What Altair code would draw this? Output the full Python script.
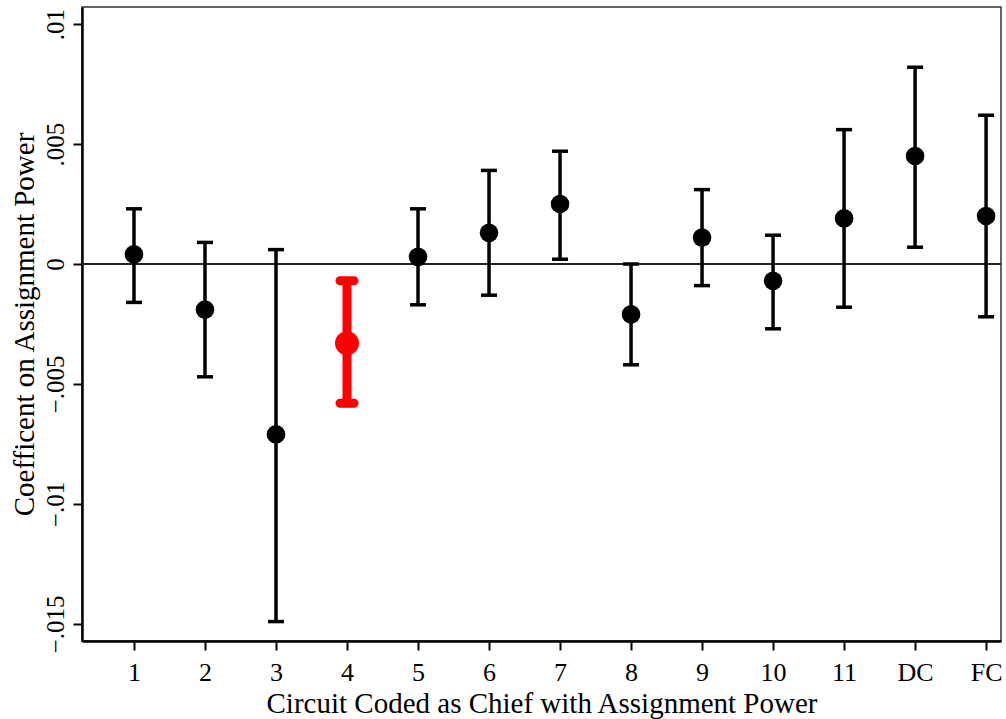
import altair as alt
import pandas as pd

circuits = ["1", "2", "3", "4", "5", "6", "7", "8", "9", "10", "11", "DC", "FC"]
coef = [0.0004, -0.0019, -0.0071, -0.0033, 0.0003, 0.0013, 0.0025, -0.0021, 0.0011, -0.0007, 0.0019, 0.0045, 0.0020]
upper = [0.0023, 0.0009, 0.0006, -0.0007, 0.0023, 0.0039, 0.0047, 0.0000, 0.0031, 0.0012, 0.0056, 0.0082, 0.0062]
lower = [-0.0016, -0.0047, -0.0149, -0.0058, -0.0017, -0.0013, 0.0002, -0.0042, -0.0009, -0.0027, -0.0018, 0.0007, -0.0022]
highlight = ["4"]
y_ticks = [-0.015, -0.01, -0.005, 0, 0.005, 0.01]

df = pd.DataFrame({
    "circuit": circuits,
    "pos": list(range(1, len(circuits) + 1)),
    "coef": coef,
    "hi": upper,
    "lo": lower,
})
df["hl"] = df["circuit"].isin(highlight)

FONT = "Liberation Serif"
label_expr = "[" + ",".join("'%s'" % c for c in circuits) + "][datum.value - 1]"

xscale = alt.Scale(domain=[0.268, 13.21], nice=False, zero=False)
yscale = alt.Scale(domain=[-0.01571, 0.01071], nice=False, zero=False)

xaxis = alt.Axis(
    values=list(range(1, len(circuits) + 1)), labelExpr=label_expr,
    title="Circuit Coded as Chief with Assignment Power",
    grid=False, domainColor="black", domainWidth=2.5,
    tickColor="black", tickWidth=2, tickSize=9,
    labelFont=FONT, labelFontSize=26, labelColor="black", labelPadding=9,
    labelBaseline="top", labelFlush=False, labelOverlap=False,
    titleFont=FONT, titleFontSize=29, titleFontWeight="normal", titleColor="black",
    titleX=459.5, titleY=71, titleBaseline="alphabetic", titleAlign="center",
)
yaxis = alt.Axis(
    values=y_ticks,
    labelExpr="replace(format(datum.value, '.3~f'), '0.', '.')",
    title="Coefficent on Assignment Power",
    grid=False, domainColor="black", domainWidth=2.5,
    tickColor="black", tickWidth=2, tickSize=9,
    labelFont=FONT, labelFontSize=25, labelColor="black", labelPadding=10,
    labelAngle=-90, labelAlign="center", labelBaseline="alphabetic",
    labelFlush=False, labelOverlap=False,
    titleFont=FONT, titleFontSize=29, titleFontWeight="normal", titleColor="black",
    titleAngle=-90, titleX=-58, titleY=317, titleBaseline="middle", titleAlign="center",
)

base = alt.Chart(df)
x = alt.X("pos:Q", scale=xscale, axis=xaxis)

zero = alt.Chart(pd.DataFrame({"z": [0]})).mark_rule(color="#222222", strokeWidth=2).encode(
    y=alt.Y("z:Q", scale=yscale, axis=yaxis)
)

black = base.transform_filter("!datum.hl")
red = base.transform_filter("datum.hl")

bars_b = black.mark_rule(color="black", strokeWidth=3.5, opacity=1).encode(
    x=x, y=alt.Y("lo:Q", scale=yscale, axis=yaxis), y2="hi:Q")
caps_hi_b = black.mark_tick(color="black", orient="horizontal", size=16, thickness=3.5,
                            opacity=1).encode(x=x, y=alt.Y("hi:Q", scale=yscale))
caps_lo_b = black.mark_tick(color="black", orient="horizontal", size=16, thickness=3.5,
                            opacity=1).encode(x=x, y=alt.Y("lo:Q", scale=yscale))
pts_b = black.mark_circle(color="black", size=346, opacity=1).encode(
    x=x, y=alt.Y("coef:Q", scale=yscale))

bars_r = red.mark_rule(color="#ff0000", strokeWidth=9, opacity=1).encode(
    x=x, y=alt.Y("lo:Q", scale=yscale), y2="hi:Q")
caps_hi_r = red.mark_tick(color="#ff0000", orient="horizontal", size=23, thickness=9,
                          cornerRadius=4.5, opacity=1).encode(x=x, y=alt.Y("hi:Q", scale=yscale))
caps_lo_r = red.mark_tick(color="#ff0000", orient="horizontal", size=23, thickness=9,
                          cornerRadius=4.5, opacity=1).encode(x=x, y=alt.Y("lo:Q", scale=yscale))
pts_r = red.mark_circle(color="#ff0000", size=573, opacity=1).encode(
    x=x, y=alt.Y("coef:Q", scale=yscale))

chart = alt.layer(
    zero, bars_b, caps_hi_b, caps_lo_b, pts_b, bars_r, caps_hi_r, caps_lo_r, pts_r
).properties(
    width=919, height=634,
    autosize=alt.AutoSizeParams(type="none"),
    padding={"left": 82, "top": 7, "right": 5, "bottom": 78},
    background="white",
).configure_view(stroke="#333333", strokeWidth=1.5)

chart.save("out.html", embed_options={"renderer": "svg", "actions": False})
